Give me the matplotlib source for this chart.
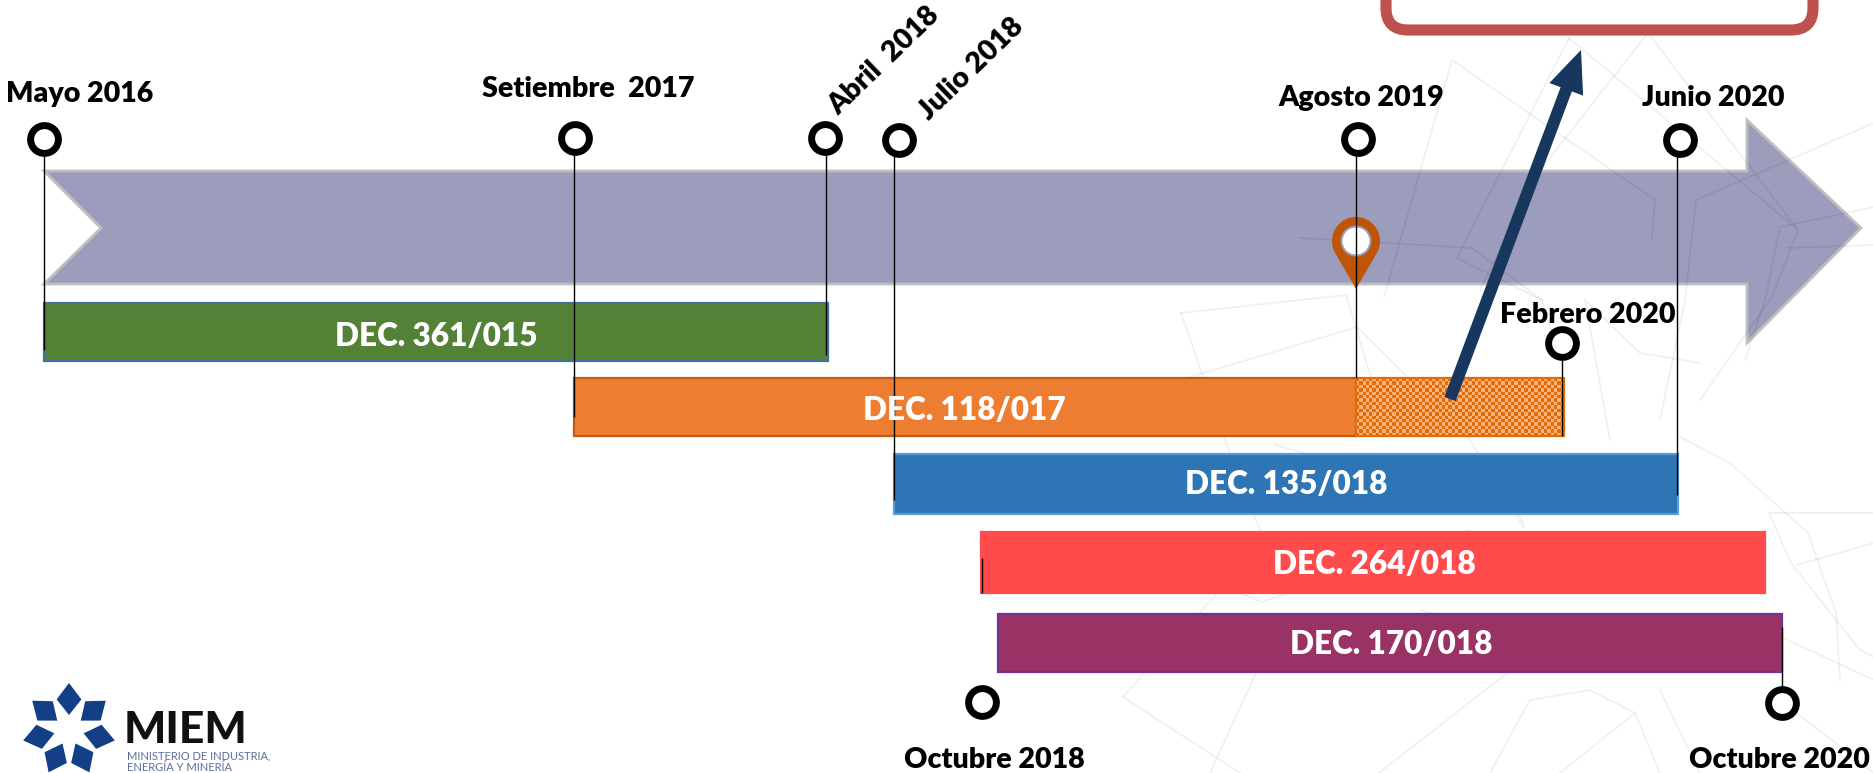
import numpy as np
import matplotlib.pyplot as plt
from matplotlib.colors import ListedColormap
from matplotlib.patches import Circle, FancyBboxPatch, Polygon, Rectangle

plt.rcParams['font.family'] = ['Lato', 'DejaVu Sans']

# decrees: name, start, end, top, bottom (picture positions)
dec_names = ['DEC. 361/015', 'DEC. 118/017', 'DEC. 135/018', 'DEC. 264/018', 'DEC. 170/018']
dec_start = [44, 574, 894, 981, 998]
dec_end = [828, 1356, 1678, 1765, 1782]
dec_top = [303, 378, 454, 532, 614]
dec_bottom = [361, 436, 514, 593, 672]
dec_colors = ['#538135', '#ED7D31', '#2E75B6', '#FF4B4B', '#993366']
dec_edges = ['#41719C', '#C55A11', '#5B9BD5', '#FF4B4B', '#7030A0']
dec_text_x = [436, 964, 1286, 1374, 1391]
dec_text_y = [337, 411, 485, 565, 644]

# extension of DEC. 118/017
ext_start = 1356
ext_end = 1564

# milestones
mile_names = ['Mayo 2016', 'Setiembre  2017', 'Abril  2018', 'Julio 2018', 'Agosto 2019',
              'Junio 2020', 'Febrero 2020', 'Octubre 2018', 'Octubre 2020']
mile_x = [44, 575, 825, 899, 1358, 1680, 1562, 982, 1782]
mile_y = [139, 138, 138, 140, 139, 140, 343, 702, 703]
mile_text_x = [80, 588, 884, 971, 1361, 1713, 1588, 994, 1779]
mile_text_y = [94, 89, 61, 69, 98, 98, 315, 760, 760]
mile_rot = [0, 0, 44, 44, 0, 0, 0, 0, 0]

# stems: x, y from, y to
stem_x = [44, 574, 826, 894, 1356, 1677, 1562, 982, 1782]
stem_y0 = [155, 154, 154, 155, 155, 155, 358, 558, 627]
stem_y1 = [350, 417, 355, 500, 378, 495, 436, 593, 687]

timeline_x = [44, 1747, 1747, 1861, 1747, 1747, 44, 101]
timeline_y = [171, 171, 120, 228, 343, 284, 284, 228]

# faint star watermark behind the chart
bg_lines = [
    [(1384, 297), (1452, 60), (1655, 200), (1652, 240)],
    [(1569, 38), (1798, 230), (1772, 297), (1700, 400)],
    [(1569, 38), (1457, 258), (1542, 300), (1560, 360)],
    [(1648, 33), (1538, 173), (1480, 290)],
    [(1648, 33), (1798, 230)],
    [(1874, 123), (1696, 200), (1685, 300), (1660, 420)],
    [(1874, 207), (1780, 227), (1765, 300), (1745, 360)],
    [(1300, 238), (1472, 248), (1542, 300)],
    [(1874, 245), (1787, 248)],
    [(1181, 313), (1346, 295), (1390, 440)],
    [(1181, 313), (1225, 440), (1260, 530)],
    [(1190, 377), (1357, 327), (1470, 440), (1524, 528), (1518, 510), (1275, 445)],
    [(1700, 363), (1640, 353), (1585, 300), (1610, 440)],
    [(1680, 437), (1730, 463), (1808, 533), (1836, 613), (1840, 680)],
    [(1874, 513), (1769, 513), (1791, 563), (1860, 650), (1874, 657)],
    [(1874, 543), (1797, 565)],
    [(1781, 637), (1874, 680)],
    [(1123, 697), (1240, 773)],
    [(1123, 697), (1223, 587), (1262, 602), (1470, 530)],
    [(1256, 673), (1210, 773)],
    [(1379, 773), (1502, 677), (1560, 640)],
    [(1490, 773), (1530, 700), (1590, 690), (1635, 713), (1560, 773)],
    [(1635, 713), (1660, 773)],
    [(1660, 690), (1700, 773)],
    [(1420, 610), (1530, 640), (1620, 620)],
    [(1780, 700), (1874, 773)],
]

fig = plt.figure(figsize=(18.74, 7.73), dpi=100)
ax = fig.add_axes([0, 0, 1, 1])

# timeline arrow
ax.add_patch(Polygon(np.column_stack([timeline_x, timeline_y]), closed=True, fc='#9C9CBC',
                     ec='#BFBFBF', lw=2, zorder=1))

for line in bg_lines:
    pts = np.array(line)
    ax.plot(pts[:, 0], pts[:, 1], color='black', alpha=0.06, lw=1.3, zorder=2,
            solid_joinstyle='round')

# decree bars
for i in range(len(dec_names)):
    ax.add_patch(Rectangle((dec_start[i], dec_top[i]), dec_end[i] - dec_start[i],
                           dec_bottom[i] - dec_top[i], fc=dec_colors[i], ec=dec_edges[i],
                           lw=1.6, zorder=3))
    ax.text(dec_text_x[i], dec_text_y[i], dec_names[i], color='white', fontsize=22.7,
            fontweight='heavy', ha='center', va='center', zorder=8)

# checkered extension
cols = int((ext_end - ext_start) / 3.3)
rows = int((dec_bottom[1] - dec_top[1]) / 3.3)
checker = np.indices((rows, cols)).sum(axis=0) % 2
ax.imshow(checker, extent=(ext_start, ext_end, dec_bottom[1], dec_top[1]), aspect='auto',
          cmap=ListedColormap(['#E36C0A', '#F9B27A']), interpolation='nearest', zorder=3)
ax.add_patch(Rectangle((ext_start, dec_top[1]), ext_end - ext_start, dec_bottom[1] - dec_top[1],
                       fc='none', ec='#E36C0A', lw=1.6, zorder=3))

# stems and rings
ax.vlines(stem_x, stem_y0, stem_y1, color='black', lw=1.0, zorder=5)
ax.plot(mile_x, mile_y, 'o', ms=20, mfc='white', mec='black', mew=5, zorder=6)
for i in range(len(mile_names)):
    ax.text(mile_text_x[i], mile_text_y[i], mile_names[i], fontsize=20.6, fontweight='heavy',
            rotation=mile_rot[i], rotation_mode='anchor', ha='center', va='center', zorder=8)

# location pin
a = np.radians(np.linspace(-30, 210, 50))
pin = np.column_stack([1356 + 24 * np.cos(a), 241 - 24 * np.sin(a)])
pin = np.vstack([pin, [1356, 289]])
ax.add_patch(Polygon(pin, closed=True, fc='#BF5504', ec='none', zorder=4))
ax.add_patch(Circle((1356, 241), 15.5, fc='#9C9CBC', ec='none', zorder=4))
ax.add_patch(Circle((1356, 241), 13.5, fc='white', ec='none', zorder=4))

# navy arrow to the box
ax.arrow(1450, 399, 131, -349, width=12, head_width=36, head_length=42,
         length_includes_head=True, fc='#17375E', ec='none', zorder=7)

# box cut by the top edge
ax.add_patch(FancyBboxPatch((1408, -80), 383, 88, boxstyle='round,pad=22', fc='white',
                            ec='#C0504D', lw=8, zorder=3))

# logo
for k in range(7):
    t = np.pi / 2 + k * 2 * np.pi / 7
    r = np.array([15, 33, 47, 33])
    d = np.radians([0, 22, 0, -22])
    ax.add_patch(Polygon(np.column_stack([69 + r * np.cos(t + d), 730 - r * np.sin(t + d)]),
                         closed=True, fc='#123F85', ec='none', zorder=3))
ax.text(124, 743, 'MIEM', fontsize=32, fontweight='black', color='#111111', va='baseline', zorder=8)
ax.text(127, 759, 'MINISTERIO DE INDUSTRIA,', fontsize=8, color='#5A6E9C', va='baseline', zorder=8)
ax.text(127, 771, 'ENERGÍA Y MINERÍA', fontsize=8, color='#5A6E9C', va='baseline', zorder=8)

ax.set_xlim(0, 1874)
ax.set_ylim(773, 0)
ax.axis('off')

fig.savefig('out.png', dpi=100)
